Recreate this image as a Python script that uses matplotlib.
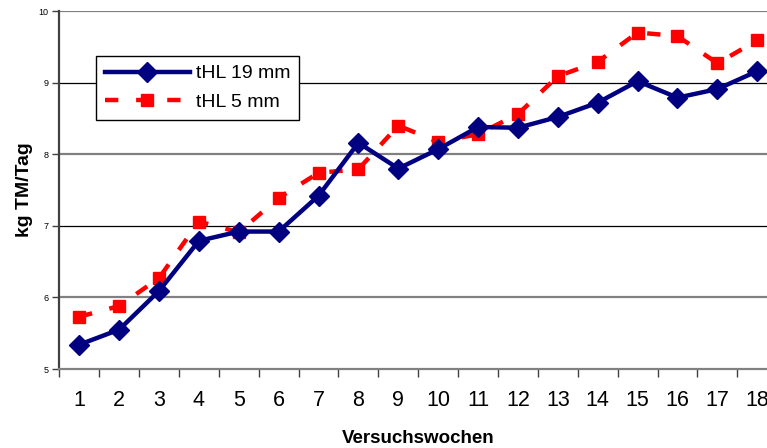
import matplotlib.pyplot as plt
import numpy as np

plt.rcParams['font.family'] = ['Liberation Sans', 'DejaVu Sans']

# Weekly values
wochen = list(range(1, 19))
thl_19 = [5.34, 5.55, 6.09, 6.79, 6.92, 6.92, 7.42, 8.16, 7.80,
          8.07, 8.38, 8.37, 8.52, 8.72, 9.02, 8.79, 8.91, 9.16]
thl_5 = [5.73, 5.88, 6.27, 7.06, 6.91, 7.39, 7.74, 7.79, 8.40,
         8.17, 8.28, 8.56, 9.09, 9.29, 9.70, 9.65, 9.27, 9.59]
y_ticks = [5, 6, 7, 8, 9, 10]

fig = plt.figure(figsize=(7.67, 4.48), dpi=100)
ax = fig.add_axes([0.0773, 0.1763, 0.936, 0.7991])

# grid lines (alternating look of the original)
for y in y_ticks[1:]:
    if y in (7, 9):
        ax.axhline(y, color='black', linewidth=0.9, zorder=1)
    else:
        ax.axhline(y, color='#808080', linewidth=1.6, zorder=1)

ax.plot(wochen, thl_19, color='#000080', linewidth=3.2, marker='D',
        markersize=10, label='tHL 19 mm', zorder=3)
ax.plot(wochen, thl_5, color='#FF0000', linewidth=3.2, linestyle=(0, (3, 4)),
        marker='s', markersize=9, label='tHL 5 mm', zorder=2)

ax.set_xlim(0.5, 18.5)
ax.set_ylim(5, 10)

ax.set_xticks(wochen)
ax.set_xticklabels([str(w) for w in wochen], fontsize=15.5)
ax.set_xticks(np.arange(0.5, 19, 1), minor=True)
ax.tick_params(axis='x', which='major', length=0, pad=15)
ax.tick_params(axis='x', which='minor', length=6, width=1, color='#404040', direction='out')

ax.set_yticks(y_ticks)
ax.set_yticklabels([str(y) for y in y_ticks], fontsize=6.5)
ax.tick_params(axis='y', length=5, width=1, color='#404040', pad=3)

for s in ['top', 'right']:
    ax.spines[s].set_visible(False)
ax.spines['left'].set_color('#404040')
ax.spines['left'].set_linewidth(1.6)
ax.spines['bottom'].set_color('#808080')
ax.spines['bottom'].set_linewidth(1.6)

ax.set_xlabel('Versuchswochen', fontsize=13.5, fontweight='bold', labelpad=14)
ax.set_ylabel('kg TM/Tag', fontsize=14, fontweight='bold', labelpad=4)

leg = ax.legend(loc='upper left', bbox_to_anchor=(0.051, 0.874), fontsize=14,
                frameon=True, fancybox=False, edgecolor='black', framealpha=1,
                handlelength=4.4, handletextpad=0.3, borderpad=0.45,
                labelspacing=0.55, borderaxespad=0)
leg.get_frame().set_linewidth(1.0)

fig.savefig('out.png', dpi=100)
